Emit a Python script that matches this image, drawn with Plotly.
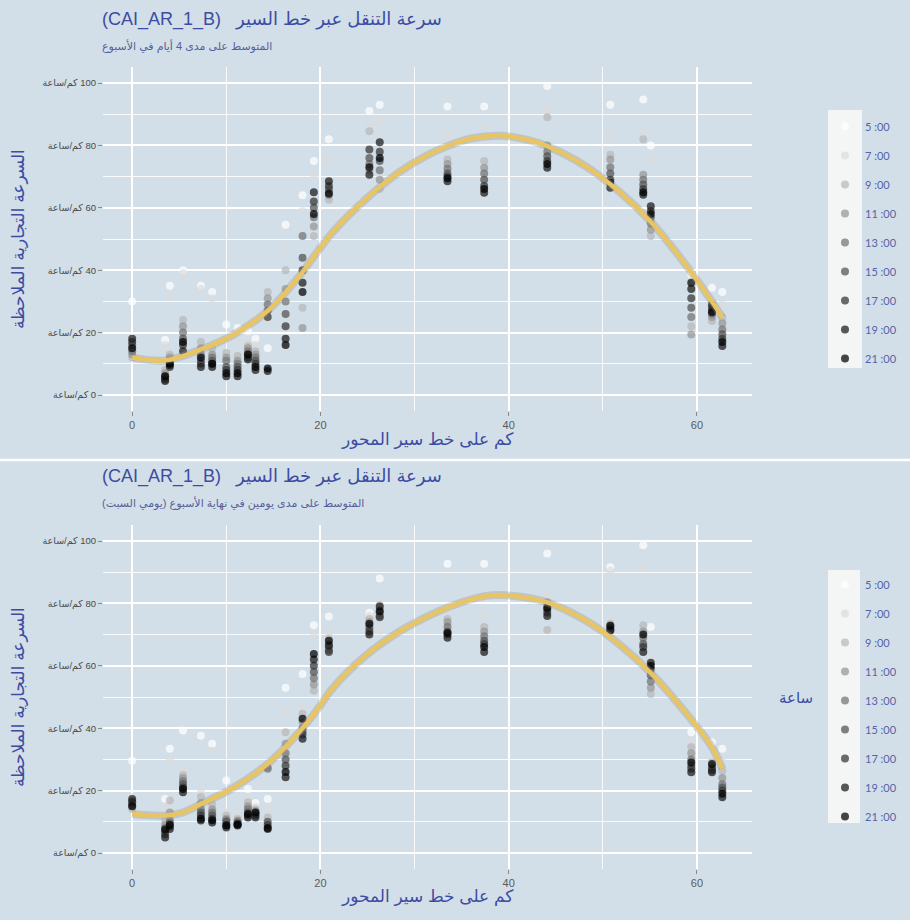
import plotly.graph_objects as go

# ---------------- data ----------------
HOURS = ["5 :00", "7 :00", "9 :00", "11 :00", "13 :00", "15 :00", "17 :00", "19 :00", "21 :00"]
HOUR_COLORS = ["#ffffff", "#dcdcdc", "#b8b8b8", "#959595", "#737373", "#525252", "#333333", "#191919", "#000000"]

KM = [0, 3.5, 4, 5.4, 7.3, 8.5, 10, 11.2, 12.3, 13.1, 14.4, 16.3, 18.1, 19.3, 20.9,
      25.2, 26.3, 33.5, 37.4, 44.1, 50.8, 54.3, 55.1, 59.4, 61.6, 62.7]

# speeds per km position, one value per hour (5:00 ... 21:00) -- weekdays (4 days)
TOP_SPEEDS = [
    [30, 15, 12, 13, 14, 16, 17, 18, 15],
    [17.6, 16, 8, 7, 6, 5.5, 5, 4.5, 6],
    [35, 32, 13, 12, 11, 10, 9, 9.5, 10],
    [40, 39, 24, 22, 20, 18, 16, 14, 17],
    [35, 34, 17, 15, 13, 11, 10, 9, 12],
    [33, 31, 15, 13, 12, 11, 10, 9, 10],
    [22.6, 18, 13.5, 12, 11, 9, 8, 6, 7],
    [21.5, 17, 12.5, 11, 10, 9, 8, 6, 7],
    [20.5, 17, 15.7, 15, 14, 13, 12, 11.4, 13],
    [18, 16, 14, 13, 12, 11, 10, 8, 9],
    [15, 24, 33, 31, 29, 27, 25, 7.7, 8.5],
    [54.6, 48, 40, 34, 30, 26, 22, 18, 16],
    [64, 59, 28, 21.5, 51, 44, 40, 36, 33],
    [75, 70.6, 51, 54, 57, 60, 62, 65, 58],
    [82, 75.5, 62.6, 64, 65, 66, 67, 68.5, 64.5],
    [91, 87, 84.5, 72, 74, 76, 78.7, 70.6, 73],
    [93, 87.7, 66, 69, 72, 75, 78, 81, 76],
    [92.5, 83.5, 75.5, 74, 72.5, 71, 70, 68.5, 69.5],
    [92.5, 86, 75, 72.8, 71, 69, 67, 64.8, 66],
    [99, 91, 89, 80, 78, 76.5, 75, 72.8, 74],
    [93, 84, 77, 75.5, 73, 71, 69, 66.4, 68],
    [94.7, 85, 82, 70.6, 69, 67.5, 66, 64.2, 65],
    [80, 75.5, 51, 53, 55, 57, 59, 60.5, 58],
    [38.6, 36, 22, 19.4, 25, 28, 31, 34, 36],
    [34.4, 30, 23.7, 25, 26, 27, 28, 29, 26.5],
    [33, 29, 24.8, 23, 21, 19.5, 18, 15.7, 17],
]

# weekend (2 days)
BOTTOM_SPEEDS = [
    [29.6, 18, 14.1, 15, 15.5, 16, 16.5, 17.3, 15],
    [17.3, 15, 10.4, 9, 8, 7, 6, 5, 7.5],
    [33.4, 30, 16.8, 13, 10.4, 9.5, 8.5, 7.7, 9],
    [39.3, 27, 25, 24, 23, 22, 21, 19.5, 20.5],
    [37.6, 20, 18, 16, 14, 13, 12, 10.4, 11],
    [35, 32.8, 15.7, 14, 13, 12, 11, 9.8, 10.5],
    [23.2, 13, 12, 11, 10.5, 10, 9, 8.2, 8.8],
    [11, 12, 11, 10.4, 10, 9.5, 9, 8.8, 9.2],
    [20.5, 17, 16.3, 15, 14, 13, 12, 11.4, 12.5],
    [16, 14.7, 14, 13.5, 13, 12.5, 12, 11.4, 13],
    [17.3, 14, 11.4, 27.5, 27, 10, 9, 7.7, 8],
    [53, 45, 38.7, 35, 32, 30, 28, 24.3, 26],
    [57.4, 46, 44.6, 42, 40, 39, 38, 36.6, 43],
    [73, 69.2, 52, 54, 56, 58, 60, 62, 63.8],
    [75.8, 70, 68.7, 67, 66, 65, 64.4, 66.5, 68],
    [77, 76, 75, 74, 73, 72, 71, 70, 73.5],
    [88, 71.3, 79.4, 78, 77, 76, 75.6, 79, 77.5],
    [92.7, 88.4, 75, 74, 72.5, 71, 70, 69, 70.5],
    [92.7, 75.6, 72.4, 71, 69.5, 68, 67, 64.4, 66],
    [96, 83, 71.5, 80.4, 79, 78, 77, 76, 78.5],
    [91.6, 90.5, 73.5, 73, 72.5, 72, 71.5, 71.3, 72.8],
    [98.6, 91.6, 73, 71, 69, 67, 66, 64.4, 70],
    [72.4, 62.2, 51, 53, 55, 57, 59, 61, 60],
    [38.7, 36, 34, 32, 30, 28, 27, 25.9, 29],
    [35.5, 30, 29, 28, 27.5, 27, 26.5, 25.9, 28.5],
    [33.4, 30.7, 26.4, 24, 22, 21, 20, 17.9, 19],
]

TOP_SMOOTH_X = [0, 3.5, 7.3, 10.8, 14.4, 17.9, 19.6, 21.4, 24.9, 28.4, 31, 33.5, 36, 39, 42, 44, 48.2, 51.7, 55.2, 58.8, 61.6, 62.7]
TOP_SMOOTH_Y = [12, 11.1, 14.6, 19.4, 27, 38.6, 45.6, 52.5, 63, 71.5, 76.3, 79.8, 82.2, 83.1, 81.8, 79.9, 73.3, 65.3, 55.2, 41.8, 30, 24.8]
BOTTOM_SMOOTH_X = [0, 3.5, 5.4, 7.3, 10.8, 14.4, 17.9, 19.6, 21.4, 24.9, 28.4, 32, 34.1, 37.6, 39.7, 44, 48.2, 51.7, 55.2, 58.8, 61.6, 62.7]
BOTTOM_SMOOTH_Y = [12.5, 12, 13, 15.7, 21, 28.6, 39.3, 45.7, 53.2, 63.5, 71.0, 76.7, 79.4, 82.4, 82.6, 80.4, 74.5, 67, 57.4, 45, 33.9, 27]

Y_TICKS = [0, 20, 40, 60, 80, 100]
X_TICKS = [0, 20, 40, 60]
UNIT = "كم/ساعة"

TITLE = "(CAI_AR_1_B)\u00a0\u00a0\u00a0سرعة التنقل عبر خط السير"
TOP_SUB = "المتوسط على مدى 4 أيام في الأسبوع"
BOTTOM_SUB = "المتوسط على مدى يومين في نهاية الأسبوع (يومي السبت)"
Y_TITLE = "السرعة التجارية الملاحظة"
X_TITLE = "كم على خط سير المحور"
LEGEND_TITLE = "ساعة"

# ---------------- styling ----------------
W, H = 910, 920
BG = "#d2dfe8"
BLUE = "#3c4ca3"
FONT = "Liberation Sans, DejaVu Sans, sans-serif"

def px_x(p):
    return p / W

def px_y(p):
    return 1 - p / H

fig = go.Figure()

panels = [
    (TOP_SPEEDS, TOP_SMOOTH_X, TOP_SMOOTH_Y, "x", "y", "legend"),
    (BOTTOM_SPEEDS, BOTTOM_SMOOTH_X, BOTTOM_SMOOTH_Y, "x2", "y2", "legend2"),
]

for speeds, sx, sy, xa, ya, lg in panels:
    for hi, hour in enumerate(HOURS):
        fig.add_trace(go.Scatter(
            x=KM, y=[col[hi] for col in speeds], mode="markers",
            xaxis=xa, yaxis=ya, legend=lg, name=hour, legendgroup=lg + hour,
            marker=dict(color=HOUR_COLORS[hi], size=8, opacity=0.72, line=dict(width=0)),
        ))
    fig.add_trace(go.Scatter(x=sx, y=sy, mode="lines", line=dict(color="rgba(150,150,150,0.35)", width=8, shape="spline"),
                             xaxis=xa, yaxis=ya, showlegend=False, hoverinfo="skip"))
    fig.add_trace(go.Scatter(x=sx, y=sy, mode="lines", line=dict(color="#e8c562", width=4.5, shape="spline"),
                             xaxis=xa, yaxis=ya, showlegend=False, hoverinfo="skip"))

xdom = [px_x(103), px_x(751.5)]
top_dom = [px_y(410.6), px_y(67.4)]
bot_dom = [px_y(868.6), px_y(525.4)]

def xaxis(anchor):
    return dict(domain=xdom, anchor=anchor, range=[-3.1, 65.8], tickvals=X_TICKS,
                ticktext=[str(v) for v in X_TICKS], showgrid=True, gridcolor="white", gridwidth=1.6,
                zeroline=False, ticks="outside", ticklen=4, tickcolor="#8a8a8a", tickwidth=1,
                tickfont=dict(family=FONT, size=11, color="#5a5a5a"), showline=False,
                minor=dict(tickvals=[10, 30, 50], showgrid=True, gridcolor="rgba(255,255,255,0.85)", gridwidth=0.8, ticks=""))

def yaxis(anchor, dom):
    return dict(domain=dom, anchor=anchor, range=[-5, 105], tickvals=Y_TICKS,
                ticktext=[UNIT + "\u200e " + str(v) for v in Y_TICKS], showgrid=True, gridcolor="white", gridwidth=1.6,
                zeroline=False, ticks="outside", ticklen=4, tickcolor="#8a8a8a", tickwidth=1,
                tickfont=dict(family=FONT, size=9.5, color="#4a4a4a"), showline=False,
                minor=dict(tickvals=[10, 30, 50, 70, 90], showgrid=True, gridcolor="rgba(255,255,255,0.85)", gridwidth=0.8, ticks=""))

def legend(ytop):
    return dict(x=px_x(825), xanchor="left", y=px_y(ytop), yanchor="top", bgcolor="rgba(0,0,0,0)",
                font=dict(family="Lato, " + FONT, size=11, color="#5563a8"), tracegroupgap=10,
                itemclick=False, itemdoubleclick=False)

annotations = []

def ann(text, x, y, size, color=BLUE, xanchor="left", angle=0):
    annotations.append(dict(text=text, x=px_x(x), y=px_y(y), xref="paper", yref="paper",
                            xanchor=xanchor, yanchor="middle", showarrow=False, textangle=angle,
                            font=dict(family=FONT, size=size, color=color)))

ann(TITLE, 100, 20, 18)
ann(TOP_SUB, 100, 46, 11, color="#56609a")
ann(TITLE, 100, 477, 18)
ann(BOTTOM_SUB, 100, 503, 11, color="#56609a")
ann(Y_TITLE, 18, 239, 17, xanchor="center", angle=-90)
ann(Y_TITLE, 18, 697, 17, xanchor="center", angle=-90)
ann(X_TITLE, 427, 440, 17, xanchor="center")
ann(X_TITLE, 427, 897, 17, xanchor="center")
ann(LEGEND_TITLE, 796, 697, 15, xanchor="center")

shapes = [
    dict(type="line", xref="paper", yref="paper", x0=0, x1=1, y0=px_y(460), y1=px_y(460),
         line=dict(color="white", width=2.5)),
    dict(type="rect", xref="paper", yref="paper", x0=px_x(828), x1=px_x(862), y0=px_y(368), y1=px_y(110),
         fillcolor="rgba(246,246,246,0.95)", line=dict(width=0), layer="above"),
    dict(type="rect", xref="paper", yref="paper", x0=px_x(828), x1=px_x(860), y0=px_y(823), y1=px_y(570),
         fillcolor="rgba(246,246,246,0.95)", line=dict(width=0), layer="above"),
]

fig.update_layout(
    width=W, height=H, margin=dict(l=0, r=0, t=0, b=0),
    paper_bgcolor=BG, plot_bgcolor=BG,
    xaxis=xaxis("y"), yaxis=yaxis("x", top_dom),
    xaxis2=xaxis("y2"), yaxis2=yaxis("x2", bot_dom),
    legend=legend(112), legend2=legend(570),
    annotations=annotations, shapes=shapes,
    showlegend=True,
)

fig.write_html("out.html")
